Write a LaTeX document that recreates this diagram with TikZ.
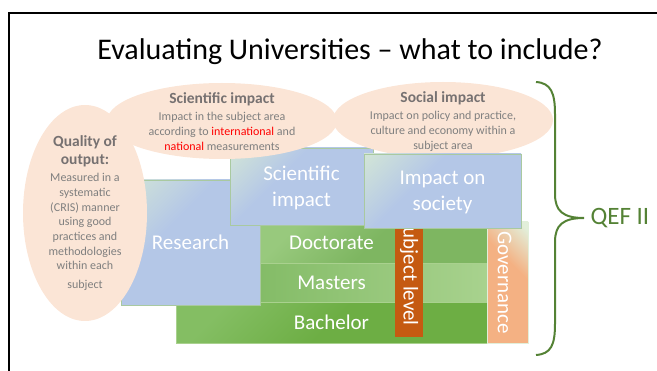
\documentclass[tikz,border=0pt]{standalone}
\usepackage{fontspec}
\setmainfont{Carlito}
\usetikzlibrary{positioning}
\usetikzlibrary{shapes.geometric}
\usetikzlibrary{calc}

\definecolor{peach}{HTML}{FBE5D6}
\definecolor{bodygrey}{HTML}{7F7F7F}
\definecolor{headgrey}{HTML}{767171}
\definecolor{alertred}{HTML}{FF0000}
\definecolor{boxblue}{HTML}{B4C7E7}
\definecolor{boxtint}{HTML}{D3E6D6}
\definecolor{boxedge}{HTML}{A9C9A0}
\definecolor{bandedge}{HTML}{A9D18E}
\definecolor{bachgreen}{HTML}{6DAE44}
\definecolor{bachtint}{HTML}{84BE63}
\definecolor{docgreen}{HTML}{7EB661}
\definecolor{doctint}{HTML}{98C97D}
\definecolor{mastleft}{HTML}{84BC67}
\definecolor{mastright}{HTML}{A8D28E}
\definecolor{subjorange}{HTML}{C55A11}
\definecolor{govorange}{HTML}{F4B183}
\definecolor{govtint}{HTML}{E2EFDA}
\definecolor{qefgreen}{HTML}{548235}

\pgfdeclareverticalshading{boxshade}{100bp}{color(0bp)=(boxblue); color(60bp)=(boxblue);
    color(86bp)=(boxtint); color(100bp)=(boxtint)}
\pgfdeclareverticalshading{govshade}{100bp}{color(0bp)=(govorange); color(60bp)=(govorange);
    color(82bp)=(govtint); color(100bp)=(govtint)}

\newcommand{\bubblehead}[1]{{\fontsize{15.5}{19}\selectfont\bfseries\color{headgrey}#1}}

\begin{document}
\begin{tikzpicture}[x=1pt,y=-1pt,
    bubble/.style={ellipse, fill=peach, inner sep=0pt},
    note/.style={align=center, text=bodygrey, inner sep=0pt, font=\fontsize{12}{15}\selectfont},
    bluebox/.style={rectangle, draw=boxedge, line width=0.6pt, inner sep=0pt,
        shading=boxshade, shading angle=45, text depth=0pt,
        text=white, align=center, font=\fontsize{21}{26}\selectfont},
    band/.style={rectangle, draw=bandedge, line width=0.5pt, inner sep=0pt},
    bandtext/.style={text=white, font=\fontsize{21}{25}\selectfont},
    qef/.style={text=qefgreen, font=\fontsize{25}{30}\selectfont}]
    \useasboundingbox (0,0) rectangle (657,371);

    % slide frame and title
    \draw[line width=2.4pt] (9,371) -- (9,13) -- (657,13);
    \node[font=\fontsize{30}{36}\selectfont, anchor=base] (title) at (350,60)
        {Evaluating Universities -- what to include?};

    % levels of study
    \node[band, minimum width=311, minimum height=41, top color=bachtint,
        bottom color=bachgreen, middle color=bachgreen, shading angle=45,
        text=white, font=\fontsize{21}{25}\selectfont] (bachelor) at (331.5,322.5) {Bachelor};
    \node[band, minimum width=227, minimum height=39, left color=mastleft,
        right color=mastright] (masters band) at (373.5,282.5) {};
    \node[band, minimum width=227, minimum height=41, top color=doctint,
        bottom color=docgreen, middle color=docgreen, shading angle=45] (doctorate band) at (373.5,242.5) {};
    \foreach \band/\label in {masters/Masters, doctorate/Doctorate}
        \node[bandtext] (\band) at (bachelor |- \band\space band) {\label};

    % subject level and governance
    \node[rectangle, fill=subjorange, inner sep=0pt, minimum width=28,
        minimum height=115] (subject bar) at (409,279.5) {};
    \node[bandtext, rotate=-90] (subject) at ([yshift=7.5pt]subject bar.center) {Subject level};
    \node[band, draw=govtint, minimum width=41, minimum height=121, shading=govshade,
        shading angle=-45] (governance box) at (507.5,282.5) {};
    \node[bandtext, rotate=-90] (governance) at ([xshift=-3pt]governance box.center) {Governance};

    % research and scientific impact
    \node[bluebox, minimum width=139, minimum height=125] (research) at (190.5,242.5) {Research};
    \node[bluebox, minimum width=143, minimum height=77] (scientific) at (301.5,186.5) {Scientific\\ impact};

    % explanation bubbles
    \node[bubble, minimum width=230, minimum height=76] (scientific bubble) at (222,121) {};
    \node[bubble, minimum width=124, minimum height=216] (quality bubble) at (85,213) {};
    \node[bubble, minimum width=220, minimum height=76] (social bubble) at (443,120) {};

    \node[note, font=\fontsize{12}{14.7}\selectfont] (quality) at (quality bubble)
        {\bubblehead{Quality of}\\[4pt] \bubblehead{output:}\\[2pt] Measured in a\\ systematic\\
         (CRIS) manner\\ using good\\ practices and\\ methodologies\\ within each\\[4pt] subject};
    \node[note] (scientific note) at ([yshift=-1pt]scientific bubble.center)
        {\bubblehead{Scientific impact}\\[2pt] Impact in the subject area\\
         according to \textcolor{alertred}{international} and\\
         \textcolor{alertred}{national} measurements};
    \node[note] (social note) at ([yshift=-1.5pt]social bubble.center)
        {\bubblehead{Social impact}\\[2pt] Impact on policy and practice,\\
         culture and economy within a\\ subject area};

    % impact on society
    \node[bluebox, minimum width=157, minimum height=74] (society) at (442.5,191) {Impact on\\ society};

    % QEF II brace
    \coordinate (brace top) at (536,82);
    \coordinate (brace tip) at (584,218);
    \coordinate (brace bottom) at (536,355);
    \draw[qefgreen, line width=2pt] (brace top) .. controls (551,83) and (555,93) .. (555,114)
        -- (555,194) .. controls (555,211) and (563,218) .. (brace tip)
        .. controls (563,218) and (555,225) .. (555,242)
        -- (555,324) .. controls (555,345) and (551,354) .. (brace bottom);
    \node[qef, right=3pt of brace tip] (qef) {QEF II};
\end{tikzpicture}
\end{document}
